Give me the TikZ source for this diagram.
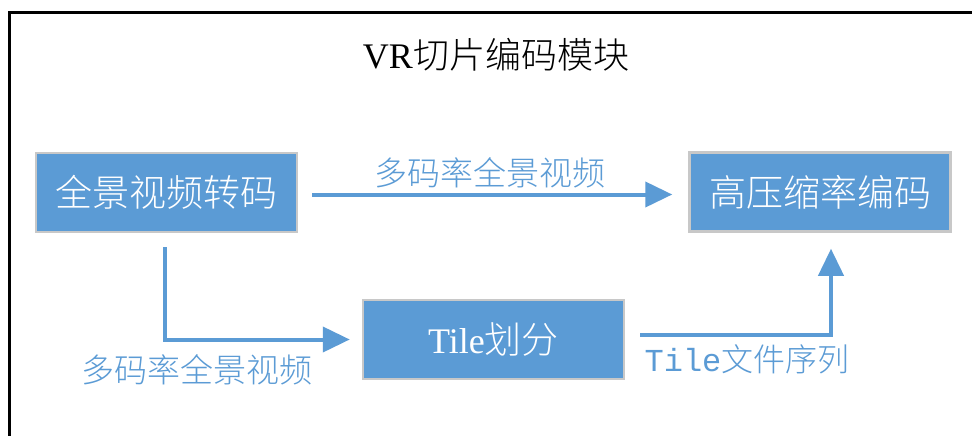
\documentclass[tikz,border=0pt]{standalone}
\usepackage{fontspec}
\setmainfont{Liberation Serif}
\setmonofont{Liberation Mono}
\IfFontExistsTF{Noto Sans CJK SC Light}{\newfontfamily\cjk{Noto Sans CJK SC Light}}{\newfontfamily\cjk{Noto Sans CJK SC}}
\usetikzlibrary{arrows.meta}
\definecolor{boxblue}{HTML}{5B9BD5}
\definecolor{boxedge}{HTML}{C8C8C8}
\begin{document}
\begin{tikzpicture}[x=1pt,y=-1pt,
  box/.style={draw=boxedge,line width=2.5pt,fill=boxblue,minimum width=261pt,minimum height=79pt,inner sep=0pt,text=white,font=\fontsize{37}{40}\selectfont\cjk},
  arr/.style={draw=boxblue,line width=4pt,-{Triangle[length=27pt,width=25pt]}},
  lbl/.style={text=boxblue,inner sep=0pt,font=\fontsize{33}{36}\selectfont\cjk}]
\useasboundingbox (0,0) rectangle (972,436);
\fill[white] (0,0) rectangle (972,436);
\draw[line width=3pt] (9.5,445) -- (9.5,12.5) -- (980,12.5);
\node[font=\fontsize{36}{40}\selectfont] (title) at (496,55) {VR{\cjk 切片编码模块}};
\node[box] (b1) at (166.5,192.5) {全景视频转码};
\node[box] (b2) at (820,192) {高压缩率编码};
\node[box] (b3) at (493.5,339.5) {{\rmfamily\fontsize{36}{40}\selectfont Tile}划分};
\draw[arr,shorten <=14pt,shorten >=16pt] ([yshift=-2pt]b1.east) -- ([yshift=-2pt]b1.east -| b2.west);
\draw[arr,shorten <=14pt,shorten >=12pt] ([xshift=-1.5pt]b1.south) |- (b3.west);
\draw[arr,shorten <=15pt,shorten >=16pt] ([yshift=4.5pt]b3.east) -| ([xshift=11pt]b2.south);
\node[lbl] (l1) at (490,173) {多码率全景视频};
\node[lbl] (l2) at (197,370) {多码率全景视频};
\node[lbl,font=\fontsize{32}{36}\selectfont\cjk] (l3) at (747,359) {{\ttfamily Tile}文件序列};
\end{tikzpicture}
\end{document}
